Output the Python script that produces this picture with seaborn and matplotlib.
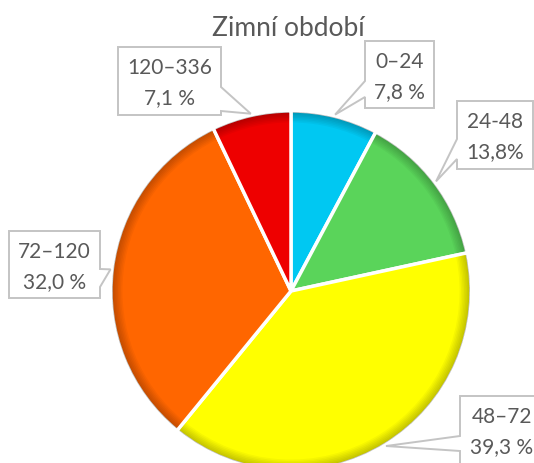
import numpy as np
import matplotlib
matplotlib.use("Agg")
import matplotlib.pyplot as plt
from matplotlib.patches import Polygon, Wedge
import seaborn as sns

# data
categories = ["0–24", "24-48", "48–72", "72–120", "120–336"]
shares = [7.8, 13.8, 39.3, 32.0, 7.1]
share_labels = ["7,8 %", "13,8%", "39,3 %", "32,0 %", "7,1 %"]
colors = ["#00C8F2", "#5AD45A", "#FFFF00", "#FF6600", "#EE0000"]
title = "Zimní období"

W, H = 534, 464

sns.set_style("white")
plt.rcParams["font.family"] = ["Lato", "DejaVu Sans"]

fig = plt.figure(figsize=(W / 100, H / 100), dpi=100)
ax = fig.add_axes([0, 0, 1, 1])

# pie (pixel coordinates, y up)
cx, cy, r = 291, 292, 180
wedges, _ = ax.pie(shares, colors=colors, startangle=90, counterclock=False,
                   center=(cx, H - cy), radius=r,
                   wedgeprops=dict(edgecolor="white", linewidth=2.5))

# soft darker rim, like the office "inner shadow" effect
for w in wedges:
    for k in range(7):
        ax.add_patch(Wedge((cx, H - cy), r - 1, w.theta1 + 0.6, w.theta2 - 0.6,
                           width=1.5 * (k + 1), facecolor="black", alpha=0.035,
                           lw=0, zorder=w.get_zorder() + 0.1))

ax.set_xlim(0, W)
ax.set_ylim(0, H)
ax.set_aspect("equal")
ax.axis("off")

# callout boxes: x0, y0, x1, y1 (image pixels, y down), side of pointer, pointer base
boxes = [
    (365, 42, 434, 109, "left", 82, 98),
    (457, 102, 533, 170, "left", 140, 160),
    (460, 397, 545, 475, "left", 437, 452),
    (9, 232, 100, 299, "right", 270, 288),
    (118, 48, 221, 116, "right", 88, 112),
]


def callout_path(x0, y0, x1, y1, side, b0, b1, tip):
    pts = [(x0, y0), (x1, y0)]
    if side == "right":
        pts += [(x1, b0), tip, (x1, b1)]
    pts += [(x1, y1), (x0, y1)]
    if side == "left":
        pts += [(x0, b1), tip, (x0, b0)]
    return [(x, H - y) for x, y in pts]


for w, box, cat, lab in zip(wedges, boxes, categories, share_labels):
    x0, y0, x1, y1, side, b0, b1 = box
    # pointer tip sits on the middle of the slice
    ang = np.deg2rad((w.theta1 + w.theta2) / 2)
    tip = (cx + 1.01 * r * np.cos(ang), cy - 1.01 * r * np.sin(ang))
    poly = Polygon(callout_path(x0, y0, x1, y1, side, b0, b1, tip), closed=True,
                   facecolor="white", edgecolor="#C4C4C4", lw=1.4, zorder=5)
    ax.add_patch(poly)
    xm = (x0 + x1) / 2 if x1 < W else 502
    ax.text(xm, H - (y0 + 20), cat, ha="center", va="center",
            fontsize=15, color="#595959", zorder=6)
    ax.text(xm, H - (y0 + 50), lab, ha="center", va="center",
            fontsize=15, color="#595959", zorder=6)

ax.text(288, H - 29, title, ha="center", va="center", fontsize=19, color="#595959")

fig.savefig("out.png", dpi=100)
